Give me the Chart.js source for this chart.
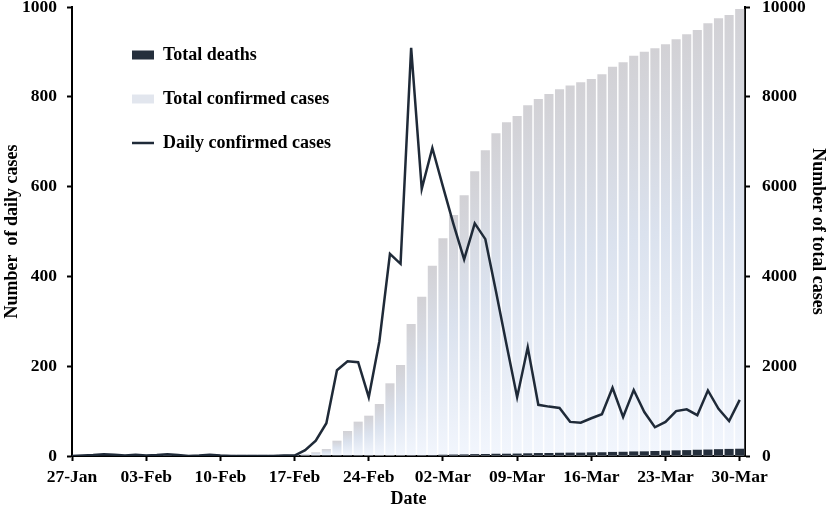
<!DOCTYPE html>
<html>
<head>
<meta charset="utf-8">
<title>Daily and total cases</title>
<script src="https://cdn.jsdelivr.net/npm/chart.js@4/dist/chart.umd.min.js"></script>
<style>
    html, body { margin:0; padding:0; background:#ffffff; }
    #wrap { width:827px; height:508px; position:relative; }
</style>
</head>
<body>
<div id="wrap">
    <canvas id="casesChart"></canvas>
</div>

<script>

/*
=================================
DATA (27-Jan .. 30-Mar, one value per day)
=================================
*/

const tickDates = [
    "27-Jan", "03-Feb", "10-Feb", "17-Feb", "24-Feb",
    "02-Mar", "09-Mar", "16-Mar", "23-Mar", "30-Mar"
];

const dailyCases = [
    0, 1, 2, 4, 3, 1, 3, 1, 2, 4, 2, 0, 1, 3, 1, 0, 0, 0, 0, 0, 1, 1,
    13, 34, 73, 191, 211, 209, 131, 255, 450, 428, 909, 595, 686,
    600, 516, 438, 518, 483, 367, 248, 131, 242, 114, 110, 107, 76,
    74, 84, 93, 152, 87, 147, 98, 64, 76, 100, 104, 91, 146, 105, 78, 125
];

const totalCases = [
    4, 4, 6, 11, 12, 15, 15, 16, 18, 23, 24, 24, 27, 27, 28, 28, 28, 28, 28, 29, 30, 31,
    46, 82, 156, 341, 557, 765, 898, 1158, 1619, 2027, 2940, 3548, 4239,
    4848, 5367, 5806, 6340, 6810, 7190, 7432, 7572, 7812, 7951, 8062, 8166, 8250,
    8325, 8396, 8500, 8670, 8768, 8916, 9005, 9080, 9169, 9280, 9391, 9488, 9636, 9748, 9822, 9955
];

const totalDeaths = [
    0, 0, 0, 0, 0, 0, 0, 0, 0, 0, 0, 0, 0, 0, 0, 0, 0, 0, 0, 0, 0, 0,
    0, 0, 1, 2, 2, 6, 8, 11, 12, 13, 16, 17, 22,
    28, 32, 35, 42, 44, 50, 51, 54, 60, 66, 67, 72, 75,
    75, 81, 84, 91, 94, 102, 104, 111, 120, 126, 131, 139, 144, 152, 158, 162
];

/*
=================================
HELPERS
=================================
*/

function toPoints(values){

    return values.map((v, i) => ({ x:i, y:v }));
}

function barGradient(c){

    const chart = c.chart;
    const axis = chart.scales ? chart.scales.y2 : null;

    if(!chart.chartArea || !axis || c.type !== "data"){
        return "#e1e5ed";
    }

    const top = axis.getPixelForValue(c.raw.y);
    const base = axis.getPixelForValue(0);

    if(base - top < 1){
        return "#e4e8ef";
    }

    const g = chart.ctx.createLinearGradient(0, top, 0, base);
    g.addColorStop(0, "#d2d1d5");
    g.addColorStop(0.45, "#dbe2ee");
    g.addColorStop(1, "#f2f6fd");

    return g;
}

// legend sits inside the plot, near the top-left corner
const legendPlace = {
    id:"legendPlace",
    afterLayout(chart){
        const lg = chart.legend;
        if(!lg) return;
        lg.left = 106;
        lg.top = 20;
        lg.right = lg.left + 320;
        lg.bottom = lg.top + 300;
    }
};

/*
=================================
CHART
=================================
*/

Chart.defaults.font.family = "'Liberation Serif', 'Times New Roman', serif";
Chart.defaults.font.weight = "bold";
Chart.defaults.color = "#000000";

const tickFont = { family:"'Liberation Serif', serif", size:17.5, weight:"bold" };
const titleFont = { family:"'Liberation Serif', serif", size:18, weight:"bold", lineHeight:1 };
const legendFills = ["#252f3c", "#e2e6ee", "#1f2a38"];

new Chart(document.getElementById("casesChart"), {

    data:{
        datasets:[
            {
                type:"bar",
                label:"Total deaths",
                data:toPoints(totalDeaths),
                yAxisID:"y2",
                backgroundColor:"#252f3c",
                grouped:false,
                barPercentage:0.86,
                categoryPercentage:1,
                order:1
            },
            {
                type:"bar",
                label:"Total confirmed cases",
                data:toPoints(totalCases),
                yAxisID:"y2",
                backgroundColor:barGradient,
                grouped:false,
                barPercentage:0.86,
                categoryPercentage:1,
                order:2
            },
            {
                type:"line",
                label:"Daily confirmed cases",
                data:toPoints(dailyCases),
                yAxisID:"y",
                borderColor:"#1f2a38",
                borderWidth:2.5,
                pointRadius:0,
                tension:0,
                order:0
            }
        ]
    },

    options:{
        responsive:true,
        maintainAspectRatio:false,
        animation:false,
        layout:{ padding:{ top:7, left:0, right:0, bottom:0 } },

        plugins:{
            tooltip:{ enabled:false },
            legend:{
                position:"chartArea",
                align:"start",
                labels:{
                    usePointStyle:true,
                    pointStyleWidth:22,
                    boxHeight:9,
                    padding:26,
                    color:"#000000",
                    font:{ family:"'Liberation Serif', serif", size:18, weight:"bold" },
                    generateLabels:(chart) =>
                        chart.data.datasets.map((ds, i) => ({
                            text:ds.label,
                            datasetIndex:i,
                            hidden:false,
                            fillStyle:legendFills[i],
                            strokeStyle:legendFills[i],
                            lineWidth:ds.type === "line" ? 2.5 : 0,
                            pointStyle:ds.type === "line" ? "line" : "rect",
                            fontColor:"#000000"
                        }))
                }
            }
        },

        scales:{
            x:{
                type:"linear",
                position:"bottom",
                min:0,
                max:63.5,
                offset:false,
                afterFit:(s) => { s.height = 52; s.paddingLeft = 0; s.paddingRight = 0; },
                border:{ display:true, color:"#000000", width:2 },
                grid:{ offset:false, drawOnChartArea:false, tickLength:5, tickWidth:2, tickColor:"#000000" },
                ticks:{
                    stepSize:7,
                    includeBounds:false,
                    autoSkip:false,
                    maxRotation:0,
                    padding:6,
                    font:tickFont,
                    color:"#000000",
                    callback:(v) => tickDates[Math.round(v / 7)] || ""
                },
                title:{ display:true, text:"Date", font:titleFont, color:"#000000", padding:{ top:0, bottom:0 } }
            },
            y:{
                position:"left",
                min:0,
                max:1000,
                afterFit:(s) => { s.width = 72; s.paddingTop = 0; s.paddingBottom = 0; },
                border:{ display:true, color:"#000000", width:2 },
                grid:{ drawOnChartArea:false, tickLength:5, tickWidth:2, tickColor:"#000000" },
                ticks:{ stepSize:200, padding:10, font:tickFont, color:"#000000", callback:(v) => String(v) },
                title:{ display:true, text:"Number  of daily cases", font:titleFont, color:"#000000", padding:{ top:3, bottom:0 } }
            },
            y2:{
                position:"right",
                min:0,
                max:10000,
                afterFit:(s) => { s.width = 82; s.paddingTop = 0; s.paddingBottom = 0; },
                border:{ display:true, color:"#000000", width:2 },
                grid:{ drawOnChartArea:false, tickLength:5, tickWidth:2, tickColor:"#000000" },
                ticks:{ stepSize:2000, padding:12, font:tickFont, color:"#000000", callback:(v) => String(v) },
                title:{ display:true, text:"Number of total cases", font:titleFont, color:"#000000", padding:{ top:0, bottom:0 } }
            }
        }
    },

    plugins:[legendPlace]
});

</script>
</body>
</html>
